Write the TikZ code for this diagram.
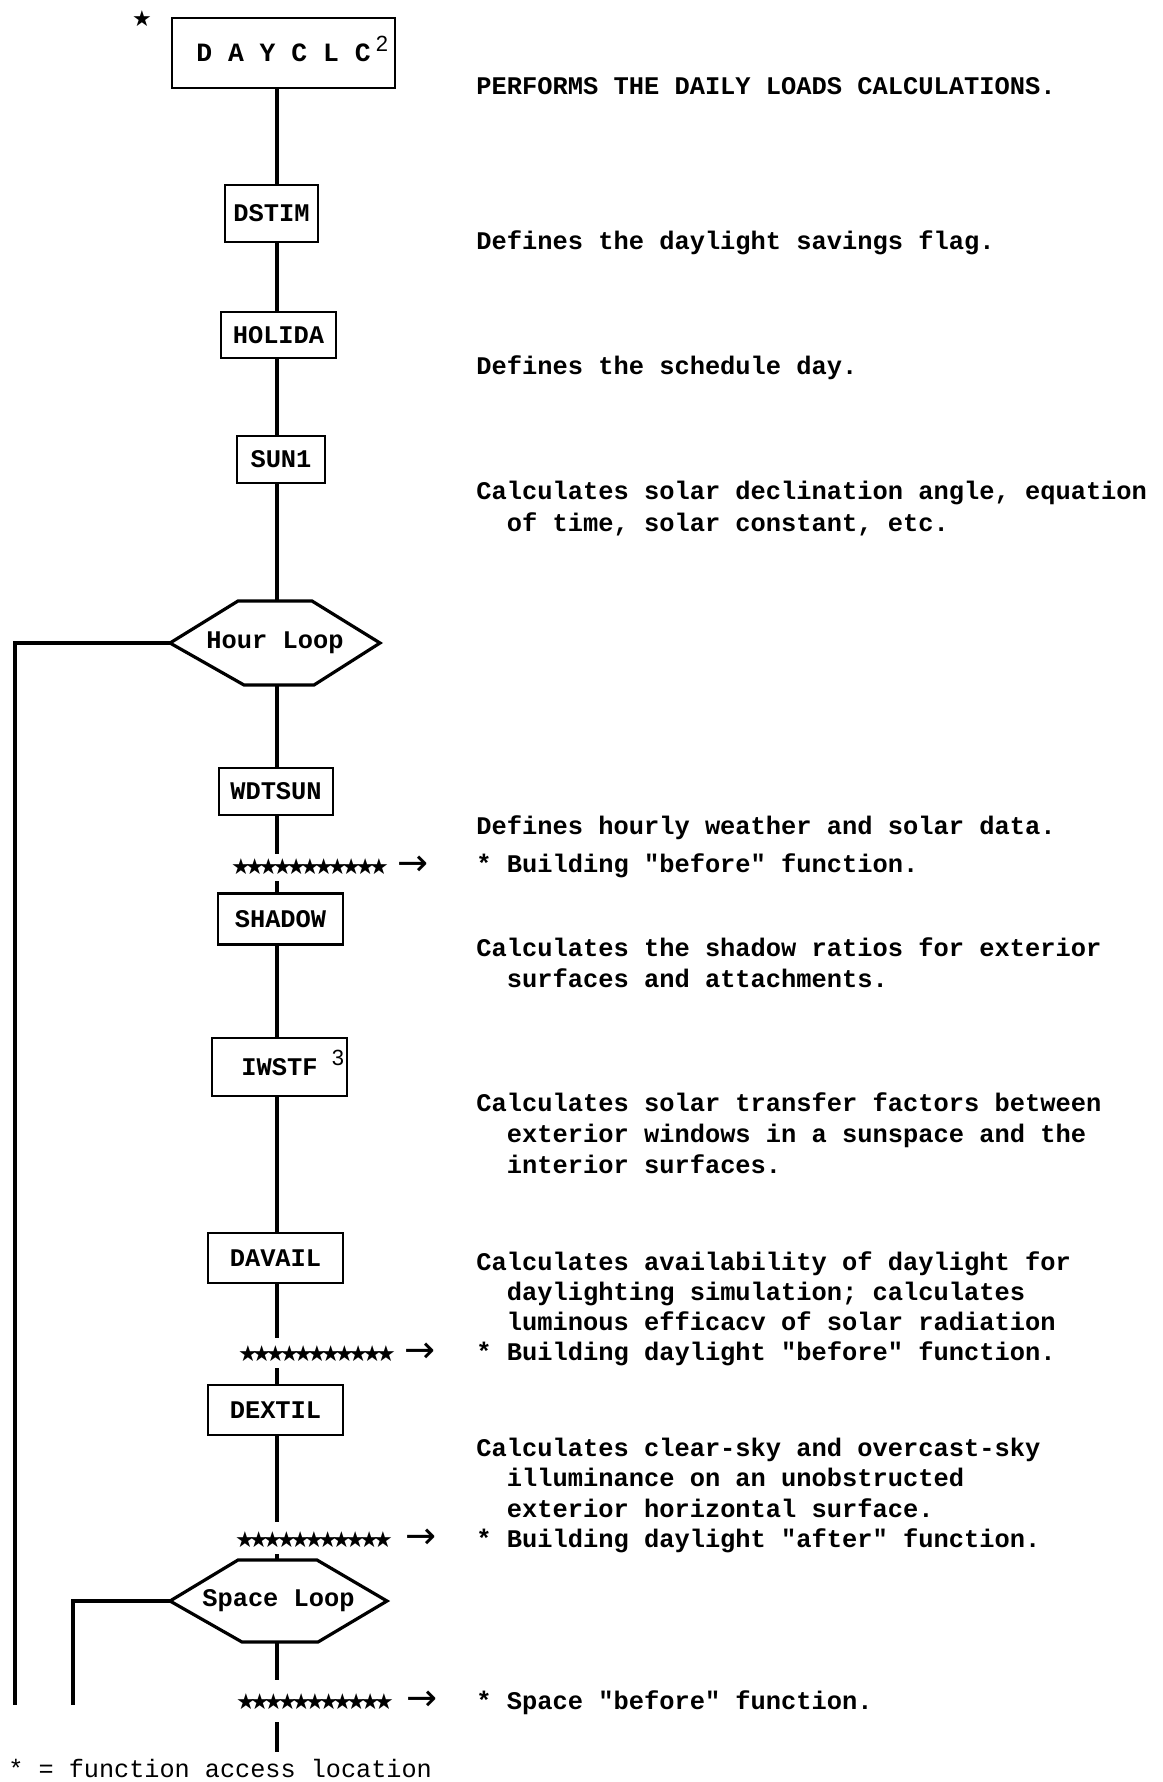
\documentclass[tikz,border=0pt]{standalone}
\usepackage{fontspec}
\newfontfamily\tw{Liberation Mono}
\newfontfamily\dvs{DejaVu Sans}
\newfontfamily\lsans{Liberation Sans}
\newcommand\fst{\makebox[6.9pt]{★}}
\newcommand\fstrow{\fst\fst\fst\fst\fst\fst\fst\fst\fst\fst\fst}
\begin{document}
\begin{tikzpicture}[x=0.5pt,y=-0.5pt,
  box/.style={draw, line width=1.4pt, inner sep=0pt, outer sep=0pt, font=\tw\bfseries\fontsize{12.7pt}{15pt}\selectfont},
  loopbox/.style={inner sep=0pt, outer sep=0pt, font=\tw\bfseries\fontsize{12.7pt}{15pt}\selectfont},
  desc/.style={anchor=base west, inner sep=0pt, font=\tw\bfseries\fontsize{12.7pt}{15pt}\selectfont},
  foot/.style={anchor=base west, inner sep=0pt, font=\tw\fontsize{12.6pt}{15pt}\selectfont},
  link/.style={line width=1.6pt},
  starrow/.style={inner sep=0pt, font=\dvs\fontsize{11pt}{11pt}\selectfont},
  tip/.style={inner sep=0pt, font=\dvs\fontsize{18.5pt}{18.5pt}\selectfont},
  supnum/.style={inner sep=0pt, font=\lsans\fontsize{11pt}{11pt}\selectfont}]
\useasboundingbox (0,0) rectangle (1162,1782);
\fill[white] (0,0) rectangle (1162,1782);
\coordinate (sp) at (277,0);

% boxes
\node[box, minimum width=111.5pt, minimum height=35pt, font=\tw\bfseries\fontsize{13.2pt}{15pt}\selectfont] (dayclc) at (283.5,53) {D A Y C L C\hspace{5pt}};
\node[supnum] (sup2) at (382,44) {2};
\node[starrow] (topstar) at (142,19) {★};
\node[box, minimum width=46.5pt, minimum height=28.5pt] (dstim) at (271.5,213.5) {DSTIM};
\node[box, minimum width=57.5pt, minimum height=23pt] (holida) at (278.5,335) {HOLIDA};
\node[box, minimum width=44pt, minimum height=23.5pt] (sun1) at (281,459.5) {SUN1};
\node[loopbox, minimum width=105pt, minimum height=42pt] (hour) at (275,643) {Hour Loop};
\draw[link] (hour.west) -- ([xshift=34pt]hour.north west) -- ([xshift=-34pt]hour.north east) -- (hour.east)
  -- ([xshift=-33pt]hour.south east) -- ([xshift=37pt]hour.south west) -- cycle;
\node[box, minimum width=57pt, minimum height=23.5pt] (wdtsun) at (276,791.5) {WDTSUN};
\node[box, minimum width=62.5pt, minimum height=25.5pt] (shadow) at (280.5,919) {SHADOW};
\node[box, minimum width=67.5pt, minimum height=29pt] (iwstf) at (279.5,1067) {IWSTF\hspace{10pt}};
\node[supnum] (sup3) at (338,1058) {3};
\node[box, minimum width=67.5pt, minimum height=25pt] (davail) at (275.5,1258) {DAVAIL};
\node[box, minimum width=67.5pt, minimum height=25pt] (dextil) at (275.5,1410) {DEXTIL};
\node[loopbox, minimum width=108.5pt, minimum height=41pt] (space) at (278.5,1601) {Space Loop};
\draw[link] (space.west) -- ([xshift=34pt]space.north west) -- ([xshift=-35pt]space.north east) -- (space.east)
  -- ([xshift=-34.5pt]space.south east) -- ([xshift=36pt]space.south west) -- cycle;

% star rows and arrows
\node[starrow] (s1) at (310,867) {\fstrow};
\node[tip] (t1) at (413,866) {→};
\node[starrow] (s2) at (317,1354) {\fstrow};
\node[tip] (t2) at (420,1353) {→};
\node[starrow] (s3) at (314,1540) {\fstrow};
\node[tip] (t3) at (421,1539) {→};
\node[starrow] (s4) at (315,1702) {\fstrow};
\node[tip] (t4) at (421.5,1701) {→};

% gap coordinates
\coordinate (g1a) at (277,854);
\coordinate (g1b) at (277,881);
\coordinate (g2a) at (277,1338);
\coordinate (g2b) at (277,1368);
\coordinate (g3a) at (277,1522);
\coordinate (g3b) at (277,1554);
\coordinate (g4a) at (277,1680);
\coordinate (g4b) at (277,1722);
\coordinate (g4c) at (277,1752);
\coordinate (hl) at (15,643);
\coordinate (hb) at (15,1705);
\coordinate (sl) at (73,1598);
\coordinate (sb) at (73,1705);

% spine connectors
\draw[link] (dayclc.south -| sp) -- (dstim.north -| sp);
\draw[link] (dstim.south -| sp) -- (holida.north -| sp);
\draw[link] (holida.south -| sp) -- (sun1.north -| sp);
\draw[link] (sun1.south -| sp) -- (hour.north -| sp);
\draw[link] (hour.south -| sp) -- (wdtsun.north -| sp);
\draw[link] (wdtsun.south -| sp) -- (g1a);
\draw[link] (g1b) -- (shadow.north -| sp);
\draw[link] (shadow.south -| sp) -- (iwstf.north -| sp);
\draw[link] (iwstf.south -| sp) -- (davail.north -| sp);
\draw[link] (davail.south -| sp) -- (g2a);
\draw[link] (g2b) -- (dextil.north -| sp);
\draw[link] (dextil.south -| sp) -- (g3a);
\draw[link] (g3b) -- (space.north -| sp);
\draw[link] (space.south -| sp) -- (g4a);
\draw[link] (g4b) -- (g4c);

% loop return lines
\draw[link] (hour.west) -- (hour.west -| hl) -- (hb);
\draw[link] (space.west) -- (space.west -| sl) -- (sb);

% descriptions
\node[desc] (d1) at (476,95) {PERFORMS THE DAILY LOADS CALCULATIONS.};
\node[desc] (d2) at (476,249) {Defines the daylight savings flag.};
\node[desc] (d3) at (476,374) {Defines the schedule day.};
\node[desc] (d4a) at (476,499) {Calculates solar declination angle, equation};
\node[desc] (d4b) at (476,531) {\phantom{xx}of time, solar constant, etc.};
\node[desc] (d5a) at (476,834) {Defines hourly weather and solar data.};
\node[desc] (d5b) at (476,872) {* Building "before" function.};
\node[desc] (d6a) at (476,956) {Calculates the shadow ratios for exterior};
\node[desc] (d6b) at (476,987) {\phantom{xx}surfaces and attachments.};
\node[desc] (d7a) at (476,1111) {Calculates solar transfer factors between};
\node[desc] (d7b) at (476,1142) {\phantom{xx}exterior windows in a sunspace and the};
\node[desc] (d7c) at (476,1173) {\phantom{xx}interior surfaces.};
\node[desc] (d8a) at (476,1270) {Calculates availability of daylight for};
\node[desc] (d8b) at (476,1300) {\phantom{xx}daylighting simulation; calculates};
\node[desc] (d8c) at (476,1330) {\phantom{xx}luminous efficacv of solar radiation};
\node[desc] (d8d) at (476,1360) {* Building daylight "before" function.};
\node[desc] (d9a) at (476,1456) {Calculates clear-sky and overcast-sky};
\node[desc] (d9b) at (476,1486) {\phantom{xx}illuminance on an unobstructed};
\node[desc] (d9c) at (476,1517) {\phantom{xx}exterior horizontal surface.};
\node[desc] (d9d) at (476,1547) {* Building daylight "after" function.};
\node[desc] (d10) at (476,1709) {* Space "before" function.};
\node[foot] (fn) at (8,1777) {* = function access location};
\end{tikzpicture}
\end{document}
